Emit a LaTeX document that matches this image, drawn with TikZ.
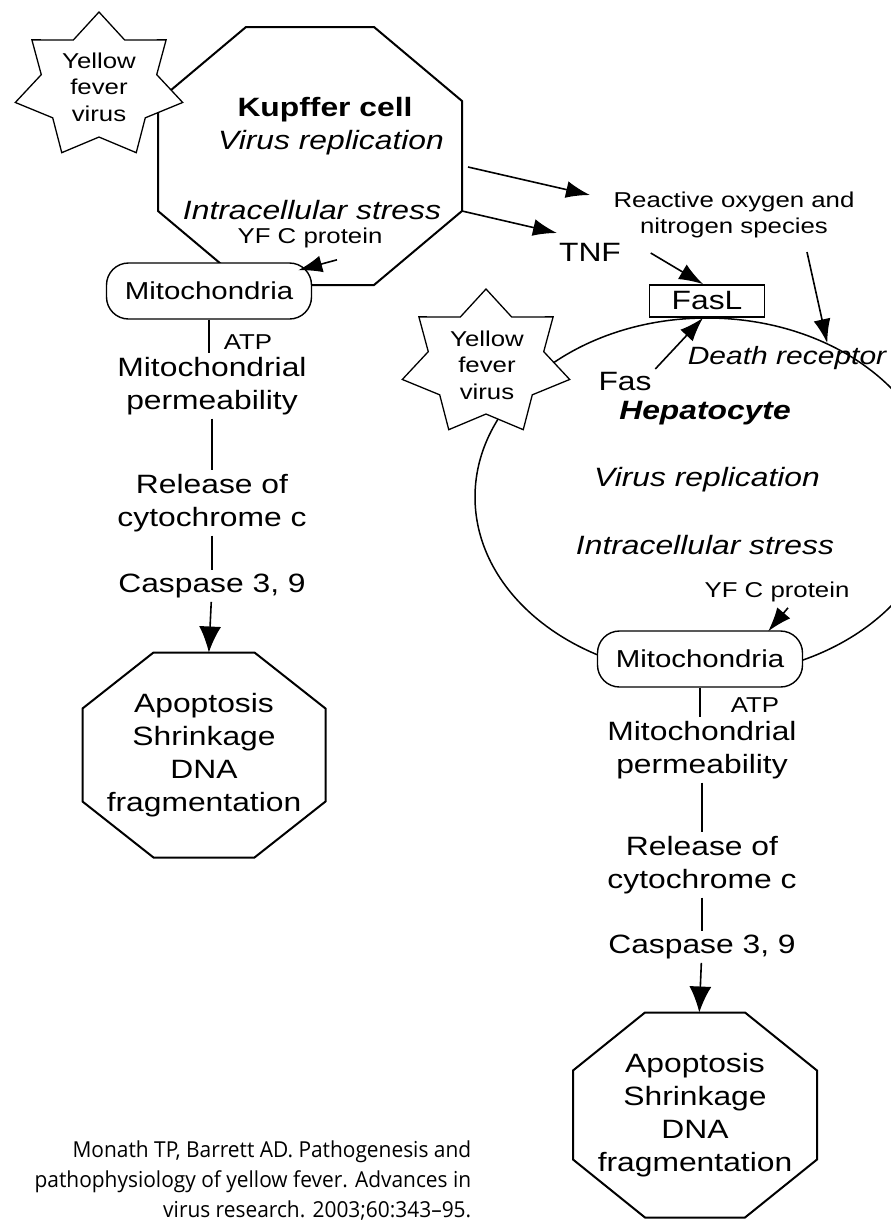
\documentclass[tikz,border=0pt]{standalone}
\usepackage{fontspec}
\setmainfont{Liberation Sans}[FakeStretch=1.2]
\newfontfamily\citefont{Open Sans}[FakeStretch=0.95]
\usetikzlibrary{arrows.meta, shapes.geometric, positioning}

% octagon round an empty box node: name, x cut, y cut
\newcommand{\octagon}[3]{%
  \draw[cellline] ([shift={(#2,0)}]#1.north west) -- ([shift={(-#2,0)}]#1.north east)
    -- ([shift={(0,#3)}]#1.north east) -- ([shift={(0,-#3)}]#1.south east)
    -- ([shift={(-#2,0)}]#1.south east) -- ([shift={(#2,0)}]#1.south west)
    -- ([shift={(0,-#3)}]#1.south west) -- ([shift={(0,#3)}]#1.north west) -- cycle;}

\begin{document}
\begin{tikzpicture}[x=1pt, y=-1pt, >={Latex[length=24pt,width=17pt]}, line width=1.6pt,
    big/.style={font=\fontsize{26.5}{33}\selectfont, align=center, inner sep=3pt},
    small/.style={font=\fontsize{21.5}{26.5}\selectfont, align=center, inner sep=2pt},
    octbox/.style 2 args={minimum width=#1, minimum height=#2, inner sep=0pt, outer sep=0pt},
    cellline/.style={line width=2pt, line join=miter},
    mito/.style={draw, fill=white, rounded corners=22pt, minimum width=205pt, minimum height=56pt,
      inner sep=0pt, line width=1.4pt, font=\fontsize{24.5}{30}\selectfont},
    virus/.style={star, star points=7, star point ratio=1.45, minimum size=148pt, inner sep=0pt,
      outer sep=0pt, xscale=1.16, draw, fill=white, line width=1.3pt},
    bigtip/.style={-{Latex[length=26pt,width=22pt]}}]
  \useasboundingbox (0,0) rectangle (891,1221);
  \fill[white] (0,0) rectangle (891,1221);
  \clip (0,0) rectangle (891,1221);

  % Kupffer cell
  \node[octbox={304pt}{258pt}] (kup) at (310,156) {};
  \octagon{kup}{88}{74}
  \node[virus] (yfv1) at (99,86) {};
  \node[small] (yfv1txt) at (99,87) {Yellow\\fever\\virus};
  \node[big] (kupname) at (325,110) {\bfseries Kupffer cell};
  \node[big] (kuprep) at (331,143) {\itshape Virus replication};
  \node[big] (kupstress) at (312,210) {\itshape Intracellular stress};
  \node[small] (ycpK) at (310,238) {YF C protein};
  \node[mito] (mitoL) at (209,291) {Mitochondria};

  % left cascade
  \node[small] (atpL) at (248,342) {ATP};
  \node[big] (permL) at (212,386) {Mitochondrial\\permeability};
  \node[big] (relL) at (212,503) {Release of\\cytochrome c};
  \node[big] (casL) at (212,586) {Caspase 3, 9};
  \node[big, octbox={243pt}{205pt}] (apopL) at (204,755)
    {Apoptosis\\Shrinkage\\DNA\\fragmentation};
  \octagon{apopL}{71}{56}

  % hepatocyte
  \node[draw, ellipse, minimum width=464pt, minimum height=358pt, inner sep=0pt, line width=1.5pt] (hep) at (707,497) {};
  \node[virus] (yfv2) at (486,363) {};
  \node[small] (yfv2txt) at (487,365) {Yellow\\fever\\virus};
  \node[draw, fill=white, big, minimum width=115pt, minimum height=32pt, inner sep=0pt, line width=1.8pt] (fasl) at (707,301) {FasL};
  \node[big] (tnf) at (590,252) {TNF};
  \node[small] (ros) at (734,215) {Reactive oxygen and\\nitrogen species};
  \node[big] (fas) at (625,382) {Fas};
  \node[big, anchor=west, inner sep=0pt, font=\fontsize{25}{30}\selectfont] (death) at (687,358) {\itshape Death receptor};
  \node[big] (hepname) at (705,413) {\bfseries\itshape Hepatocyte};
  \node[big] (heprep) at (707,480) {\itshape Virus replication};
  \node[big] (hepstress) at (705,545) {\itshape Intracellular stress};
  \node[small] (ycpH) at (777,592) {YF C protein};
  \node[mito] (mitoR) at (700,659) {Mitochondria};

  % right cascade
  \node[small] (atpR) at (755,705) {ATP};
  \node[big] (permR) at (702,750) {Mitochondrial\\permeability};
  \node[big] (relR) at (702,865) {Release of\\cytochrome c};
  \node[big] (casR) at (702,947) {Caspase 3, 9};
  \node[big, octbox={244pt}{205pt}] (apopR) at (695,1115)
    {Apoptosis\\Shrinkage\\DNA\\fragmentation};
  \octagon{apopR}{72}{58}

  % source
  \node[anchor=north east, align=right, inner sep=0pt, font=\citefont\fontsize{22}{30}\selectfont] (cite) at (472,1140)
    {Monath TP, Barrett AD. Pathogenesis and\\pathophysiology of yellow fever. Advances in\\virus research. 2003;60:343–95.};

  % arrows
  \coordinate (rosin) at (590,195);
  \coordinate (tnfin) at (557,233);
  \draw[->] ([shift={(6,11)}]kup.east) -- (rosin);
  \draw[->] ([shift={(0,-74)}]kup.south east) -- (tnfin);
  \draw[->] ([shift={(26,1)}]tnf.east) -- ([shift={(-4,0)}]fasl.north);
  \draw[->] ([shift={(73,11)}]ros.south) -- (hep.52);
  \draw[->] (fas.north east) -- ([shift={(-4,0)}]fasl.south);
  \draw[->] ([shift={(27,9)}]ycpK.south) -- ([shift={(-14,8)}]mitoL.north east);
  \draw[->] ([shift={(11,3)}]ycpH.south) -- ([shift={(-35,1)}]mitoR.north east);

  \draw (mitoL.south) -- (mitoL.south |- permL.north);
  \draw (permL) -- (relL);
  \draw (relL) -- (casL);
  \draw[bigtip] (casL) -- (apopL);
  \draw (mitoR.south) -- (mitoR.south |- permR.north);
  \draw (permR) -- (relR);
  \draw (relR) -- (casR);
  \draw[bigtip] (casR) -- (apopR);
\end{tikzpicture}
\end{document}
